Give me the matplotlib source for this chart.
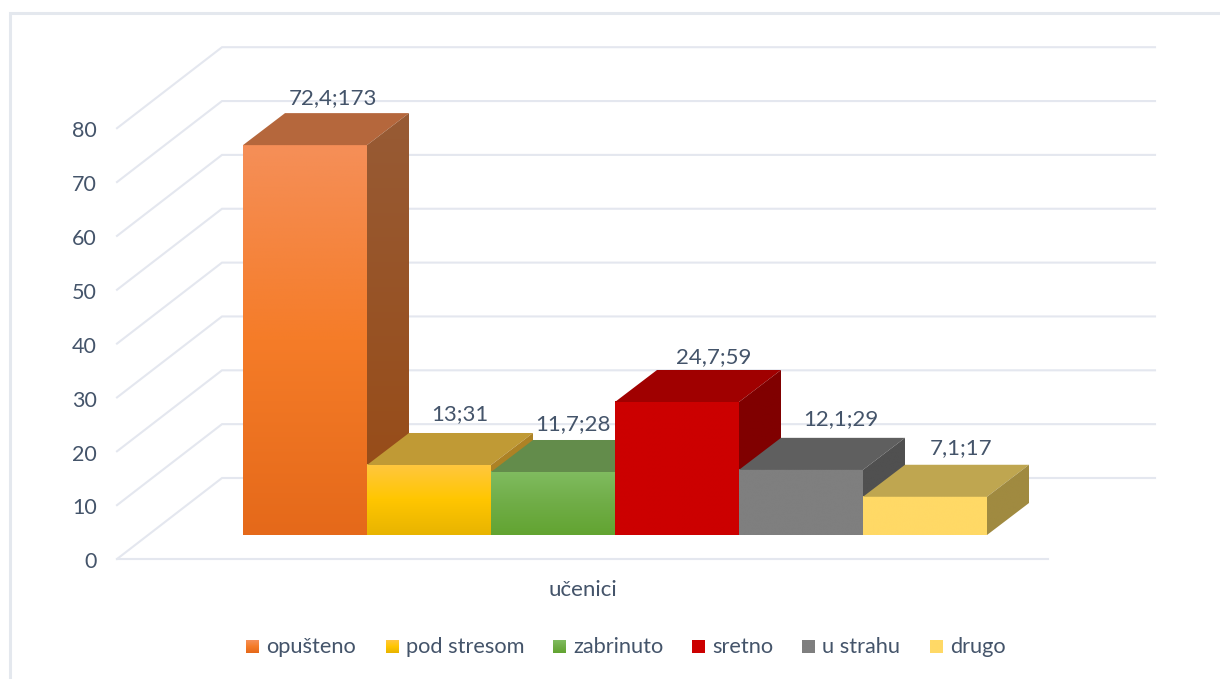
import matplotlib
matplotlib.use('Agg')
import numpy as np
import matplotlib.pyplot as plt
from matplotlib.colors import LinearSegmentedColormap
from matplotlib.patches import Polygon

categories = ['opušteno', 'pod stresom', 'zabrinuto', 'sretno', 'u strahu', 'drugo']
values = [72.4, 13, 11.7, 24.7, 12.1, 7.1]
counts = ['173', '31', '28', '59', '29', '17']
y_ticks = [0, 10, 20, 30, 40, 50, 60, 70, 80]
group_label = 'učenici'

# top to bottom colours of the front face
front_colors = [['#F58F58', '#F57C28', '#E5691A'],
                ['#FFC740', '#FFC600', '#E8B400'],
                ['#80BC60', '#70AD47', '#62A431'],
                ['#CC0000', '#CC0000', '#CC0000'],
                ['#7F7F7F', '#7F7F7F', '#7F7F7F'],
                ['#FFD966', '#FFD966', '#FFD966']]
top_colors = ['#B5673C', '#C09A35', '#638C4B', '#A00000', '#5F5F5F', '#BFA650']
side_colors = [['#985B35', '#974A14'], ['#AD8225', '#AD8225'], ['#4F7A35', '#4F7A35'],
               ['#800000', '#800000'], ['#505050', '#505050'], ['#A08A40', '#A08A40']]

# label offsets in pixels, from bar centre and from the top back edge
label_dx = [28, 31, 20, 37, 40, 36]
label_dy = [15, 19, 16, 13, 19, 17]
legend_x = [246, 386, 553, 692, 802, 930]

text_color = '#44546A'
grid_color = '#E4E7EF'
frame_color = '#E4E8EE'
W, H = 1220, 679
bar_px = 124.0
unit_px = 5.385
x0_px, y0_px = 243.0, 535.0

# data units per pixel, axes fill the whole figure
px_x = 1 / bar_px
px_y = 1 / unit_px

fig = plt.figure(figsize=(W / 100, H / 100), dpi=100)
ax = fig.add_axes([0, 0, 1, 1])
xlim = (-x0_px * px_x, (W - x0_px) * px_x)
ylim = ((y0_px - H) * px_y, y0_px * px_y)
ax.axis('off')

# outer frame, only left and top are visible
fx = xlim[0] + 9.5 * px_x
fy = ylim[1] - 12.5 * px_y
ax.plot([fx, fx, xlim[1]], [ylim[0], fy, fy], color=frame_color, lw=2.2, zorder=0,
        solid_joinstyle='miter')

# gridlines: left wall + back wall
floor_x = -126 * px_x
floor_y = -24 * px_y
depth_x = 105 * px_x
depth_y = 81 * px_y
back_len = 933 * px_x
for t in y_ticks:
    xs = [floor_x, floor_x + depth_x, floor_x + depth_x + back_len]
    ys = [floor_y + t, floor_y + depth_y + t, floor_y + depth_y + t]
    ax.plot(xs, ys, color=grid_color, lw=1.5, zorder=1, solid_joinstyle='miter')
    ax.text(floor_x - 20 * px_x, floor_y + t - 0.6, str(t), ha='right', va='center',
            fontsize=15.5, color=text_color, family='Lato')
ax.plot([floor_x, floor_x + 931 * px_x], [floor_y, floor_y], color=grid_color, lw=1.5, zorder=1)

# bars
dx = 42 * px_x
dy = 32 * px_y
for i, v in enumerate(values):
    z = 3 + i
    cmap = LinearSegmentedColormap.from_list('f', front_colors[i])
    ax.imshow(np.linspace(0, 1, 256).reshape(-1, 1), cmap=cmap, extent=(i, i + 1, 0, v),
              aspect='auto', origin='upper', zorder=z, interpolation='bilinear')
    ax.add_patch(Polygon([(i, v), (i + 1, v), (i + 1 + dx, v + dy), (i + dx, v + dy)],
                         fc=top_colors[i], ec='none', zorder=z))
    side = Polygon([(i + 1, 0), (i + 1 + dx, dy), (i + 1 + dx, v + dy), (i + 1, v)],
                   fc='none', ec='none', zorder=z)
    ax.add_patch(side)
    side_cmap = LinearSegmentedColormap.from_list('s', side_colors[i])
    im = ax.imshow(np.linspace(0, 1, 256).reshape(-1, 1), cmap=side_cmap,
                   extent=(i + 1, i + 1 + dx, 0, v + dy), aspect='auto', origin='upper',
                   zorder=z, interpolation='bilinear')
    im.set_clip_path(side)
    label = f'{v:g}'.replace('.', ',') + ';' + counts[i]
    ax.text(i + 0.5 + label_dx[i] * px_x, v + dy + label_dy[i] * px_y, label,
            ha='center', va='center', fontsize=16, color=text_color, family='Lato', zorder=20)

ax.text((582.5 - x0_px) * px_x, (y0_px - 590) * px_y, group_label, ha='center', va='center',
        fontsize=16, color=text_color, family='Lato')

# legend
for name, col, lx in zip(categories, front_colors, legend_x):
    cm = LinearSegmentedColormap.from_list('l', col)
    x_l = (lx - x0_px) * px_x
    y_t = (y0_px - 640) * px_y
    y_b = (y0_px - 653) * px_y
    ax.imshow(np.linspace(0, 1, 32).reshape(-1, 1), cmap=cm, extent=(x_l, x_l + 13 * px_x, y_b, y_t),
              aspect='auto', origin='upper', zorder=5)
    ax.text(x_l + 20 * px_x, (y0_px - 647) * px_y, name, ha='left', va='center',
            fontsize=15.7, color=text_color, family='Lato')

ax.set_xlim(xlim)
ax.set_ylim(ylim)
fig.savefig('out.png', dpi=100, facecolor='white')
